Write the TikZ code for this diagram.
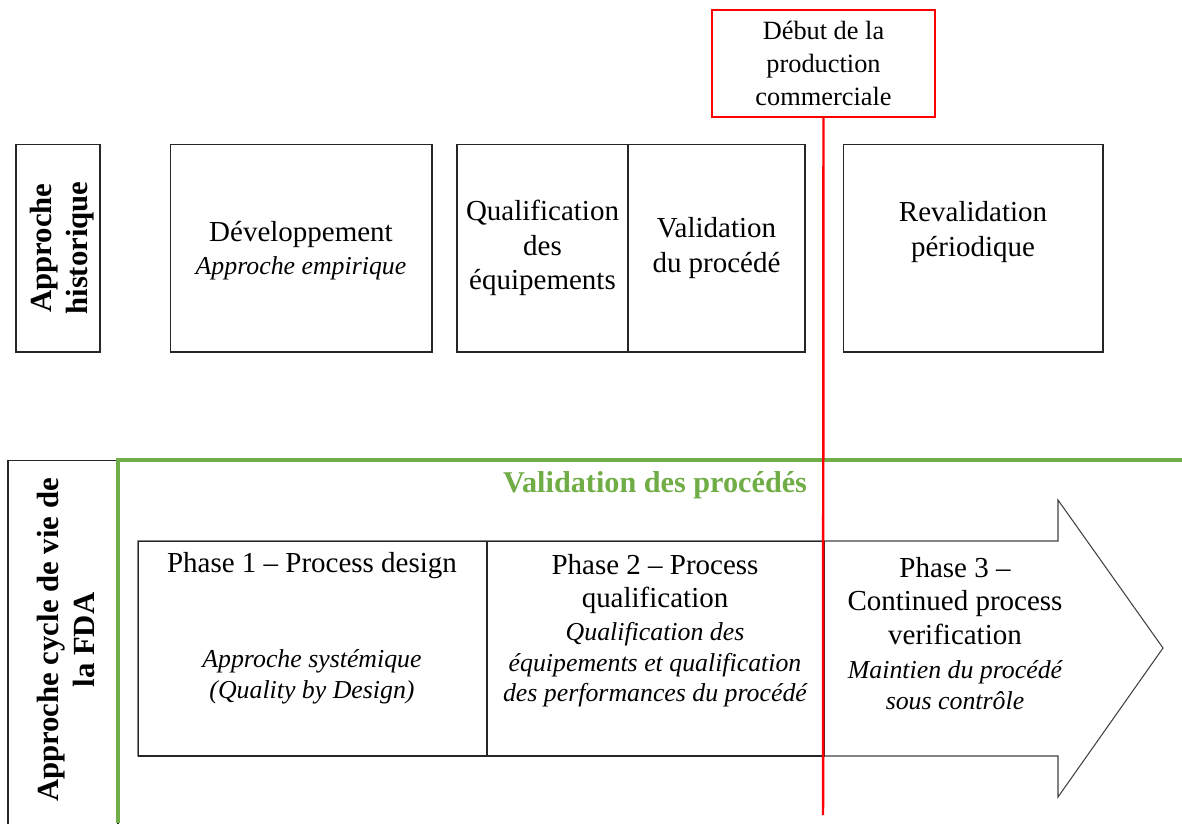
\documentclass[tikz,border=0pt]{standalone}
\usepackage{fontspec}
\setmainfont{Liberation Serif}
\usetikzlibrary{positioning}

\definecolor{fdagreen}{RGB}{112,173,71}
\definecolor{startred}{RGB}{255,0,0}
\newcommand{\bodyfont}{\fontsize{16.5}{19.8}\selectfont}
\newcommand{\phasefont}{\fontsize{16.5}{19.3}\selectfont}
\newcommand{\notefont}{\fontsize{14.7}{17.4}\selectfont\itshape}
\newcommand{\sidefont}{\fontsize{17.5}{20.5}\selectfont\bfseries}
\newcommand{\redfont}{\fontsize{15}{18.7}\selectfont}

\begin{document}
\begin{tikzpicture}[x=0.02cm,y=-0.02cm]
    \tikzstyle{box}=[draw=black!85,line width=0.6pt,rectangle,minimum height=4.16cm,inner sep=2pt]
    \tikzstyle{txt}=[align=center,font=\bodyfont]
    \tikzstyle{ptxt}=[align=center,font=\phasefont]
    \tikzstyle{note}=[align=center,font=\notefont]
    \tikzstyle{side}=[align=center,font=\sidefont,rotate=90]
  \useasboundingbox (0,0) rectangle (1182,823);

  %% approche historique
  \node (hist) at (58,248) [box,minimum width=1.68cm] {};
  \node (histt) at (62,248) [side] {Approche\\historique};
  \node (dev) at (301,248) [box,minimum width=5.24cm] {};
  \node (devt) at (301,234) [txt] {Développement};
  \node (devi) at (301,268) [note] {Approche empirique};
  \node (qual) at (542.5,248) [box,minimum width=3.42cm,txt] {Qualification\\des\\équipements};
  \node (valid) at (716.5,248) [box,minimum width=3.54cm,txt] {Validation\\du procédé};
  \node (reval) at (973,248) [box,minimum width=5.2cm] {};
  \node (revalt) at (973,232) [txt] {Revalidation\\périodique};

  %% approche FDA
  \node (fda) at (63,645) [box,minimum width=2.2cm,minimum height=7.4cm] {};
  \node (fdat) at (66,640) [side] {Approche cycle de vie de\\la FDA};
  \coordinate (gtop) at (1182,460);
  \coordinate (gbot) at (118,823);
  \draw[fdagreen,line width=1.8pt] (gtop) -| (gbot);
  \node (vdp) at (655,485) [font=\fontsize{17.2}{20}\selectfont\bfseries,text=fdagreen] {Validation des procédés};

  % grande fleche
  \draw[black!75,line width=0.6pt] (138,541) -- (1058,541) -- (1058,500) -- (1163,648)
      -- (1058,797) -- (1058,756) -- (138,756) -- cycle;
  \node (ph1) at (312.5,648.5) [box,minimum width=6.98cm,minimum height=4.3cm] {};
  \node (ph2) at (655.5,648.5) [box,minimum width=6.74cm,minimum height=4.3cm] {};
  \node (ph1t) at (312,566) [ptxt] {Phase 1 -- Process design};
  \node (ph1i) at (312,677) [note] {Approche systémique\\(Quality by Design)};
  \node (ph2t) at (655,584) [ptxt] {Phase 2 -- Process\\qualification};
  \node (ph2i) at (655,665) [note] {Qualification des\\équipements et qualification\\des performances du procédé};
  \node (ph3t) at (955,601) [ptxt] {Phase 3 --\\Continued process\\verification};
  \node (ph3i) at (955,685) [note] {Maintien du procédé\\sous contrôle};

  %% debut production
  \node (debut) at (823.5,63.5) [draw=startred,line width=1.2pt,minimum width=4.46cm,minimum height=2.14cm,
      align=center,font=\redfont] {Début de la\\production\\commerciale};
  \coordinate (rbot) at (823,815);
  \draw[startred,line width=1.4pt] (debut.south) -- (rbot);
\end{tikzpicture}
\end{document}
